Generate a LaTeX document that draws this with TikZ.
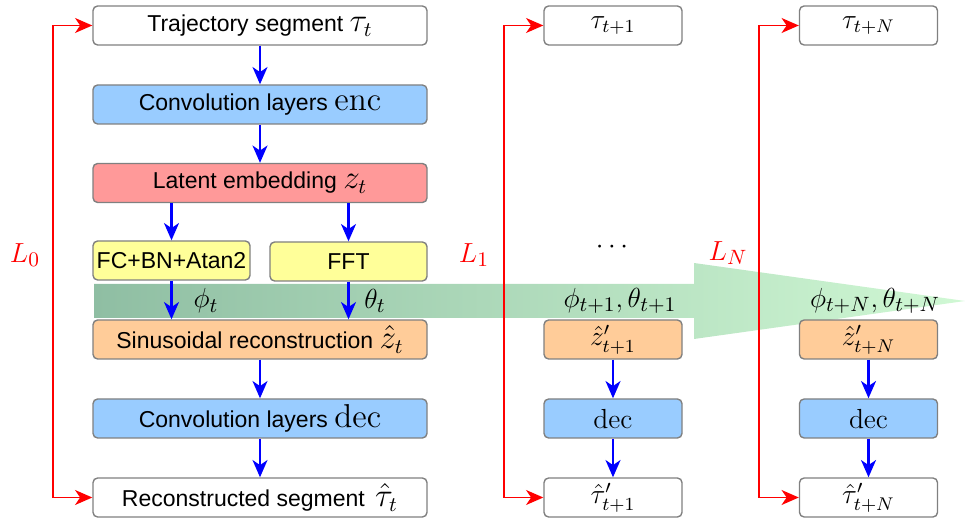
\documentclass[tikz,border=0pt]{standalone}
\usepackage[no-math]{fontspec}
\setmainfont{Liberation Sans}
\usetikzlibrary{arrows.meta}
\def\pxu{0.4348pt}
\definecolor{bxblue}{RGB}{153,204,255}
\definecolor{bxred}{RGB}{255,153,153}
\definecolor{bxyellow}{RGB}{255,255,153}
\definecolor{bxorange}{RGB}{255,204,153}
\definecolor{bxborder}{RGB}{128,128,128}
\definecolor{grA}{RGB}{143,190,163}
\definecolor{grB}{RGB}{208,248,212}
\newcommand{\mL}[1]{{\fontsize{13.5}{16}\selectfont$#1$}}
\newcommand{\mR}[1]{{\fontsize{11.7}{14}\selectfont$#1$}}
\newcommand{\mK}[1]{{\fontsize{12.2}{14}\selectfont$#1$}}
\begin{document}
\begin{tikzpicture}[x=\pxu,y=-\pxu,
  box/.style={draw=bxborder,line width=0.6pt,rounded corners=2pt,inner sep=0pt,
    minimum height=39*\pxu,font=\fontsize{10}{12}\selectfont},
  wide/.style={box,minimum width=334*\pxu},
  half/.style={box,minimum width=157*\pxu},
  small/.style={box,minimum width=138*\pxu},
  barr/.style={draw=blue,line width=1pt,-{Stealth[length=7.5pt,width=6.5pt,inset=2.2pt]}},
  rarr/.style={draw=red,line width=0.8pt,{Stealth[length=7.5pt,width=6.5pt,inset=2.2pt]}-{Stealth[length=7.5pt,width=6.5pt,inset=2.2pt]}},
  lbl/.style={inner sep=0pt}]
\useasboundingbox (0,0) rectangle (965,518);
% big shaded arrow
\shade[left color=grA,right color=grB] (94,284) -- (694,284) -- (694,263) -- (965,301) -- (694,339) -- (694,318) -- (94,318) -- cycle;
% left column
\node[wide,fill=white] (traj) at (260,25.5) {Trajectory segment \mL{\tau_t}};
\node[wide,fill=bxblue] (enc) at (260,104.5) {Convolution layers \mL{\mathrm{enc}}};
\node[wide,fill=bxred] (lat) at (260,183) {Latent embedding \mL{z_t}};
\node[half,fill=bxyellow] (fc) at (171.5,260.5) {FC+BN+Atan2};
\node[half,fill=bxyellow] (fft) at (348.5,261.5) {FFT};
\node[wide,fill=bxorange] (sin) at (260,339.5) {Sinusoidal reconstruction \mL{\hat{z}_t}};
\node[wide,fill=bxblue] (decL) at (260,418.5) {Convolution layers \mL{\mathrm{dec}}};
\node[wide,fill=white] (rec) at (260,497.5) {Reconstructed segment\, \mL{\hat{\tau}_t}};
% middle column
\node[small,fill=white] (tauA) at (613,25.5) {\mR{\tau_{t+1}}};
\node[small,fill=bxorange] (zA) at (613,339.5) {\mR{\hat{z}'_{t+1}}};
\node[small,fill=bxblue] (decA) at (613,418.5) {\mR{\mathrm{dec}}};
\node[small,fill=white] (recA) at (613,497.5) {\mR{\hat{\tau}'_{t+1}}};
% right column
\node[small,fill=white] (tauB) at (868.5,25.5) {\mR{\tau_{t+N}}};
\node[small,fill=bxorange] (zB) at (868.5,339.5) {\mR{\hat{z}'_{t+N}}};
\node[small,fill=bxblue] (decB) at (868.5,418.5) {\mR{\mathrm{dec}}};
\node[small,fill=white] (recB) at (868.5,497.5) {\mR{\hat{\tau}'_{t+N}}};
% blue arrows
\draw[barr] (traj) -- (enc);
\draw[barr] (enc) -- (lat);
\draw[barr] (fc.north |- lat.south) -- (fc.north);
\draw[barr] (fft.north |- lat.south) -- (fft.north);
\draw[barr] (fc.south) -- (fc.south |- sin.north);
\draw[barr] (fft.south) -- (fft.south |- sin.north);
\draw[barr] (sin) -- (decL);
\draw[barr] (decL) -- (rec);
\draw[barr] (zA) -- (decA);
\draw[barr] (decA) -- (recA);
\draw[barr] (zB) -- (decB);
\draw[barr] (decB) -- (recB);
% red loss connectors
\draw[rarr] (traj.west) -- ++(-39,0) |- (rec.west);
\draw[rarr] (tauA.west) -- ++(-39,0) |- (recA.west);
\draw[rarr] (tauB.west) -- ++(-40,0) |- (recB.west);
% labels
\node[lbl,text=red] (l0) at (25,255) {\mK{L_0}};
\node[lbl,text=red] (l1) at (474,255) {\mK{L_1}};
\node[lbl,text=red] (lN) at (728,253) {\mK{L_N}};
\node[lbl] (dots) at (612,247) {\mK{\cdots}};
\node[lbl] (phit) at (206,301) {\mK{\phi_t}};
\node[lbl] (thetat) at (375,301) {\mK{\theta_t}};
\node[lbl] (pA) at (620,301) {\mK{\phi_{t+1},\theta_{t+1}}};
\node[lbl] (pB) at (875,301) {\mK{\phi_{t+N},\theta_{t+N}}};
\end{tikzpicture}
\end{document}
